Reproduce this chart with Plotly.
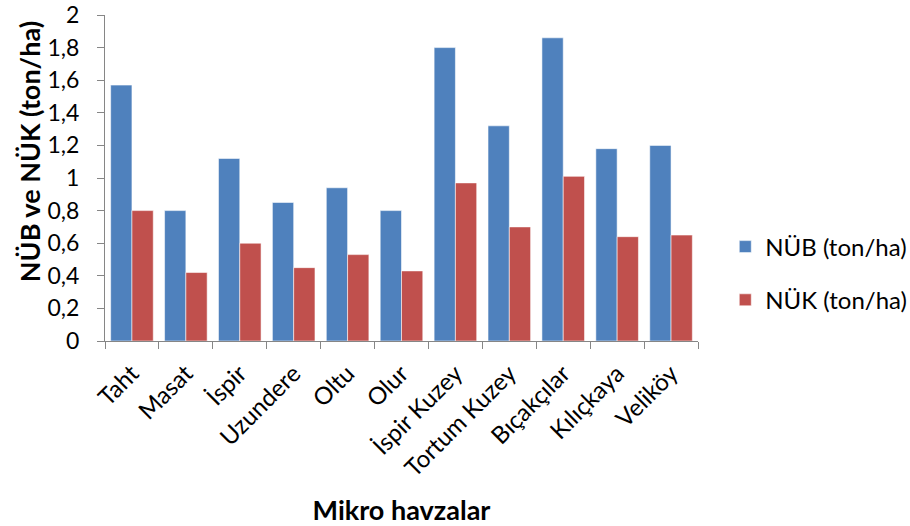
import plotly.graph_objects as go

# Micro-basin names and yields (ton/ha)
basins = ["Taht", "Masat", "İspir", "Uzundere", "Oltu", "Olur",
          "İspir Kuzey", "Tortum Kuzey", "Bıçakçılar", "Kılıçkaya", "Veliköy"]
nub = [1.57, 0.80, 1.12, 0.85, 0.94, 0.80, 1.80, 1.32, 1.86, 1.18, 1.20]
nuk = [0.80, 0.42, 0.60, 0.45, 0.53, 0.43, 0.97, 0.70, 1.01, 0.64, 0.65]

y_tick_vals = [0, 0.2, 0.4, 0.6, 0.8, 1.0, 1.2, 1.4, 1.6, 1.8, 2.0]
y_tick_text = ["0", "0,2", "0,4", "0,6", "0,8", "1", "1,2", "1,4", "1,6", "1,8", "2"]

FONT = "Lato, 'Open Sans', sans-serif"
AXIS = "#868686"

fig = go.Figure()
fig.add_trace(go.Bar(
    x=basins, y=nub, name="NÜB (ton/ha)", legendgroup="a",
    marker=dict(color="#4F81BD", line=dict(color="rgba(255,255,255,0.55)", width=1)),
))
fig.add_trace(go.Bar(
    x=basins, y=nuk, name="NÜK (ton/ha)", legendgroup="b",
    marker=dict(color="#C0504D", line=dict(color="rgba(255,255,255,0.55)", width=1)),
))

fig.update_layout(
    width=910, height=526,
    margin=dict(l=105, r=212, t=15, b=185, autoexpand=False),
    paper_bgcolor="white", plot_bgcolor="white",
    barmode="group", bargap=0.21, bargroupgap=0,
    font=dict(family=FONT, size=24, color="black"),
    showlegend=True,
    legend=dict(xref="container", yref="container", x=0.797, y=0.48,
                xanchor="left", yanchor="middle",
                font=dict(size=24), tracegroupgap=19,
                bgcolor="rgba(0,0,0,0)"),
)

# Vertical axis title, placed as a rotated annotation left of the tick labels
fig.add_annotation(
    text="<b>NÜB ve NÜK (ton/ha)</b>", textangle=-90,
    xref="paper", yref="paper", x=-0.126, y=0.58,
    xanchor="center", yanchor="middle", showarrow=False,
    font=dict(size=27, family=FONT, color="black"),
)

fig.update_xaxes(
    type="category", range=[-0.5, len(basins) - 0.5], automargin=False,
    showline=True, linecolor=AXIS, linewidth=1,
    ticks="outside", tickson="boundaries", ticklen=7, tickcolor=AXIS,
    tickangle=-45, tickfont=dict(size=24), ticklabelstandoff=8,
    ticklabeloverflow="allow",
    showgrid=False, zeroline=False,
    title=dict(text="<b>Mikro havzalar</b>", font=dict(size=27), standoff=29),
)
fig.update_yaxes(
    range=[0, 2], tickvals=y_tick_vals, ticktext=y_tick_text, automargin=False,
    showline=True, linecolor=AXIS, linewidth=1,
    ticks="outside", ticklen=7, tickcolor=AXIS,
    tickfont=dict(size=23), ticklabelstandoff=13,
    ticklabeloverflow="allow",
    showgrid=False, zeroline=False,
)

fig.write_html("out.html")
